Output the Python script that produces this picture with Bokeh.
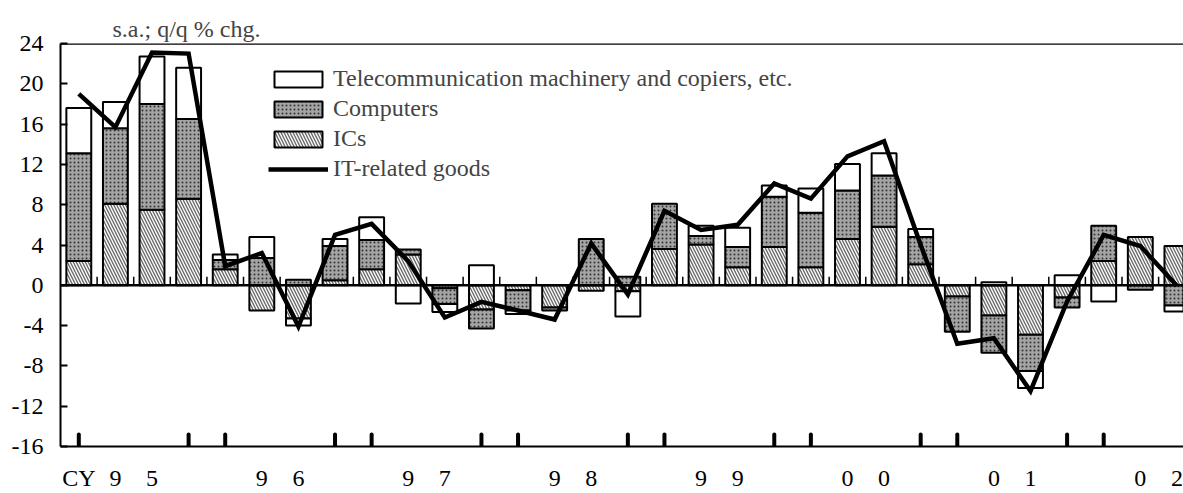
import numpy as np
from bokeh.plotting import figure
from bokeh.models import (ColumnDataSource, FixedTicker, Legend, LegendItem,
                          Span, Range1d)
from bokeh.embed import file_html
from bokeh.resources import INLINE

# ---------------- data ----------------
years = ["95", "96", "97", "98", "99", "00", "01", "02"]
quarters = [f"{y}Q{q}" for y in years for q in range(1, 5)][:31]

ics = [2.4, 8.1, 7.5, 8.6, 1.6, -2.5, -3.3, 0.5, 1.6, 3.05, -0.3, -2.4,
       -0.5, -2.2, -0.55, -0.6, 3.6, 4.05, 1.8, 3.8, 1.8, 4.6, 5.8, 2.1,
       -1.1, -3.0, -4.9, -1.2, 2.4, 4.8, 3.9]
computers = [10.7, 7.5, 10.5, 7.9, 0.9, 2.7, 0.55, 3.4, 2.9, 0.5, -1.55, -1.9,
             -2.0, -0.3, 4.6, 0.85, 4.5, 0.85, 2.0, 5.0, 5.4, 4.8, 5.1, 2.7,
             -3.5, -3.7, -3.6, -1.0, 3.5, -0.45, -2.0]
telecom = [4.5, 2.6, 4.7, 5.1, 0.55, 2.1, -0.7, 0.7, 2.25, -1.8, -0.8, 2.0,
           -0.35, 0.0, 0.0, -2.5, 0.0, 1.0, 1.9, 1.1, 2.4, 2.65, 2.2, 0.8,
           0.0, 0.3, -1.7, 1.0, -1.6, 0.0, -0.6]
it_goods = [19.0, 15.7, 23.1, 23.0, 1.9, 3.2, -4.1, 5.0, 6.1, 2.4, -3.2, -1.65,
            -2.5, -3.4, 4.15, -0.9, 7.4, 5.5, 6.0, 10.1, 8.6, 12.8, 14.3, 4.0,
            -5.8, -5.25, -10.5, -1.6, 5.0, 3.9, -0.05]

y_ticks = [-16, -12, -8, -4, 0, 4, 8, 12, 16, 20, 24]
y_tick_labels = ["-16", "-12", "-8", "-4", "0", "4", "8", "12", "16", "20", "24"]

series_names = ["Telecommunication machinery and copiers, etc.", "Computers",
                "ICs", "IT-related goods"]
unit_label = "s.a.; q/q % chg."

FONT = "Liberation Serif"
FS = "24px"

n = len(quarters)
idx = np.arange(n)

# stacking (positives up, negatives down), order ICs, Computers, Telecom
pos = np.zeros(n)
neg = np.zeros(n)


def stack(vals):
    global pos, neg
    v = np.array(vals, dtype=float)
    bottom = np.where(v >= 0, pos, neg)
    top = bottom + v
    pos = np.where(v >= 0, top, pos)
    neg = np.where(v < 0, top, neg)
    keep = v != 0
    return ColumnDataSource(dict(x=idx[keep], bottom=bottom[keep], top=top[keep]))


src_ics = stack(ics)
src_comp = stack(computers)
src_tele = stack(telecom)

p = figure(width=1183, height=493,
           x_range=Range1d(-0.5, n - 0.82), y_range=Range1d(y_ticks[0], y_ticks[-1]),
           output_backend="svg", toolbar_location=None,
           min_border_left=60, min_border_right=0, min_border_top=43,
           min_border_bottom=45)
p.outline_line_color = None
p.xgrid.visible = False
p.ygrid.visible = False
p.background_fill_color = "white"

BW = 0.68
r_ics = p.vbar(x="x", bottom="bottom", top="top", width=BW, source=src_ics,
               fill_color="white", line_color="black", line_width=2,
               hatch_pattern="\\", hatch_color="#6a6a6a", hatch_scale=6,
               hatch_weight=1.4)
r_comp = p.vbar(x="x", bottom="bottom", top="top", width=BW, source=src_comp,
                fill_color="#a4a4a4", line_color="black", line_width=2,
                hatch_pattern=".", hatch_color="#333333", hatch_scale=4,
                hatch_weight=1)
r_tele = p.vbar(x="x", bottom="bottom", top="top", width=BW, source=src_tele,
                fill_color="white", line_color="black", line_width=2)

# zero line with small category ticks
zero = Span(location=0, dimension="width", line_color="black", line_width=2.5)
p.add_layout(zero)
bnd = idx[:-1] + 0.5
p.segment(x0=bnd, y0=np.zeros(len(bnd)), x1=bnd, y1=np.full(len(bnd), 0.85),
          line_color="black", line_width=1.5)

# top border
p.add_layout(Span(location=y_ticks[-1], dimension="width", line_color="black",
                  line_width=2.5))

# thick ticks on the bottom axis at Q4 / Q1 boundaries
tick_q = [i for i, q in enumerate(quarters) if q.endswith("Q1") or q.endswith("Q4")]
tick_q = [i for i in tick_q if i < n - 2]
p.segment(x0=tick_q, y0=[y_ticks[0]] * len(tick_q), x1=tick_q,
          y1=[y_ticks[0] + 1.2] * len(tick_q), line_color="black",
          line_width=4, line_cap="round")

r_line = p.line(idx, it_goods, line_color="black", line_width=4.5,
                line_join="miter")

# axes
xlab = {0: "CY"}
for y in years:
    if f"{y}Q2" in quarters:
        xlab[quarters.index(f"{y}Q2")] = y[0]
    if f"{y}Q3" in quarters:
        xlab[quarters.index(f"{y}Q3")] = y[1]
xa = p.xaxis[0]
xa.ticker = FixedTicker(ticks=sorted(xlab.keys()), minor_ticks=[])
xa.major_label_overrides = xlab
xa.major_tick_line_color = None
xa.minor_tick_line_color = None
xa.axis_line_width = 2
xa.major_label_standoff = 12
xa.major_label_text_font = FONT
xa.major_label_text_font_size = FS
xa.major_label_text_color = "black"

ya = p.yaxis[0]
ya.ticker = FixedTicker(ticks=y_ticks, minor_ticks=[])
ya.major_label_overrides = dict(zip(y_ticks, y_tick_labels))
ya.major_tick_in = 7
ya.major_tick_out = 0
ya.major_tick_line_width = 2
ya.minor_tick_line_color = None
ya.axis_line_width = 2
ya.major_label_standoff = 17
ya.major_label_text_font = FONT
ya.major_label_text_font_size = FS
ya.major_label_text_color = "black"

# title
p.title.text = unit_label
p.title.text_font = FONT
p.title.text_font_size = FS
p.title.text_font_style = "normal"
p.title.align = "left"
p.title.offset = 52
p.title.standoff = 4

legend = Legend(items=[LegendItem(label=series_names[0], renderers=[r_tele]),
                       LegendItem(label=series_names[1], renderers=[r_comp]),
                       LegendItem(label=series_names[2], renderers=[r_ics]),
                       LegendItem(label=series_names[3], renderers=[r_line])],
                location=(208, 264), glyph_width=60, glyph_height=20,
                label_standoff=5, spacing=3, padding=0, margin=0,
                border_line_color=None, background_fill_alpha=0,
                label_text_font=FONT, label_text_font_size=FS)
p.add_layout(legend)

open("out.html", "w").write(file_html(p, INLINE))
